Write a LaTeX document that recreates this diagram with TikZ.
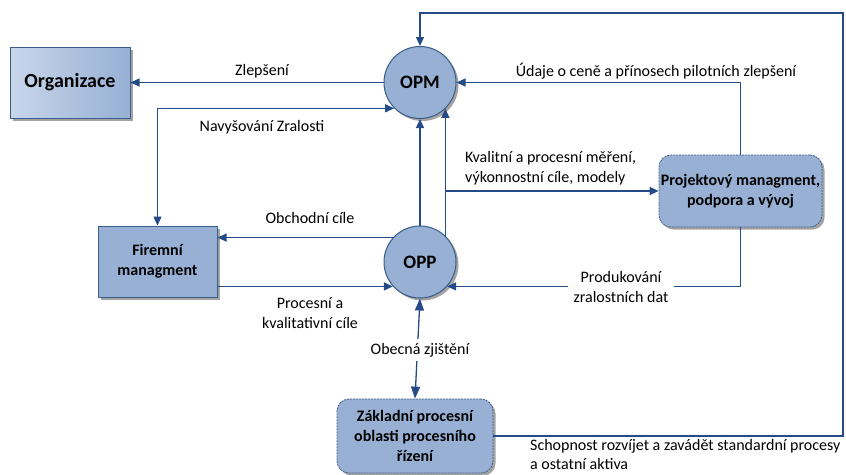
\documentclass[tikz,border=0pt]{standalone}
\usepackage{fontspec}
\setmainfont{Carlito}
\usetikzlibrary{arrows.meta,shadows,calc}
\definecolor{lineblue}{RGB}{36,74,136}
\definecolor{boxedge}{RGB}{56,93,138}
\definecolor{boxfill}{RGB}{151,176,212}
\definecolor{boxlight}{RGB}{200,214,234}
\tikzset{
  flow/.style={draw=lineblue, line width=1.3pt, -{Triangle[length=9pt,width=8pt]}},
  flowboth/.style={draw=lineblue, line width=1.3pt, {Triangle[length=12pt,width=9pt]}-{Triangle[length=12pt,width=9pt]}},
  lbl/.style={font=\fontsize{16}{19.5}\selectfont, inner sep=1pt, align=center},
  shad/.style={drop shadow={shadow xshift=2.5pt, shadow yshift=-2.5pt, fill=black!45, opacity=0.8}},
  circ/.style={circle, draw=boxedge, line width=1pt, fill=boxfill, minimum size=72pt, inner sep=0pt, font=\fontsize{19}{22}\selectfont\bfseries, shad},
  sqbox/.style={rectangle, draw=boxedge, line width=1pt, fill=boxfill, inner sep=0pt, align=center, font=\fontsize{16}{20}\selectfont\bfseries, shad},
  rbox/.style={rectangle, rounded corners=12pt, draw=boxedge, line width=0.8pt, dash pattern=on 2pt off 1pt, fill=boxfill, inner sep=0pt, align=center, font=\fontsize{16}{20}\selectfont\bfseries, shad},
}
\begin{document}
\begin{tikzpicture}[x=1pt,y=-1pt]
\useasboundingbox (0,0) rectangle (846,474);
% nodes
\node[sqbox, minimum width=120pt, minimum height=71pt, left color=boxlight, right color=boxfill, font=\fontsize{20}{22}\selectfont\bfseries] (org) at (70,82.5) {Organizace};
\node[circ] (opm) at (420,82.5) {OPM};
\node[circ] (opp) at (420,262) {OPP};
\node[sqbox, minimum width=119pt, minimum height=71pt] (firm) at (157.5,261.5) {Firemní\\managment};
\node[rbox, minimum width=163pt, minimum height=72pt] (proj) at (740.5,191) {Projektový managment,\\podpora a vývoj};
\node[rbox, minimum width=156pt, minimum height=74pt] (zakl) at (415,436) {Základní procesní\\oblasti procesního\\řízení};
\coordinate (cr) at (843,13);
% connectors
\draw[flow] (opm.west) -- (org.east);
\draw[draw=lineblue, line width=1.3pt, {Triangle[length=9pt,width=8pt]}-{Triangle[length=9pt,width=8pt]}] (opm.225) -| (firm.north);
\draw[flow] (opp.138) -- (opp.138 -| firm.east);
\draw[flow] (opp.222 -| firm.east) -- (opp.222);
\draw[flow] (opp.north) -- (opm.south);
\draw[flow] (opp.46) -- (opm.314);
\draw[flow] (opp.46 |- proj.west) -- (proj.west);
\draw[flow] (proj.north) |- (opm.east);
\draw[flow] (proj.south) |- (opp.318);
\draw[flowboth] (opp.south) -- (zakl.north);
\draw[flow] (zakl.east) -| (cr) -| (opm.north);
% labels
\node[lbl] (l1) at (262,71) {Zlepšení};
\node[lbl] (l2) at (262,127) {Navyšování Zralosti};
\node[lbl] (l3) at (310,218) {Obchodní cíle};
\node[lbl, font=\fontsize{16}{20}\selectfont] (l4) at (310,313) {Procesní a\\kvalitativní cíle};
\node[lbl, anchor=west, align=left] (l5) at (464,168) {Kvalitní a procesní měření,\\výkonnostní cíle, modely};
\node[lbl] (l6) at (656,71) {Údaje o ceně a přínosech pilotních zlepšení};
\node[lbl, fill=white, inner xsep=6pt, font=\fontsize{16}{20}\selectfont] (l7) at (621,287) {Produkování\\zralostních dat};
\node[lbl, fill=white, inner ysep=4pt] (l8) at (420,350) {Obecná zjištění};
\node[lbl, anchor=north west, align=left] (l9) at (529,438) {Schopnost rozvíjet a zavádět standardní procesy\\a ostatní aktiva};
\end{tikzpicture}
\end{document}
